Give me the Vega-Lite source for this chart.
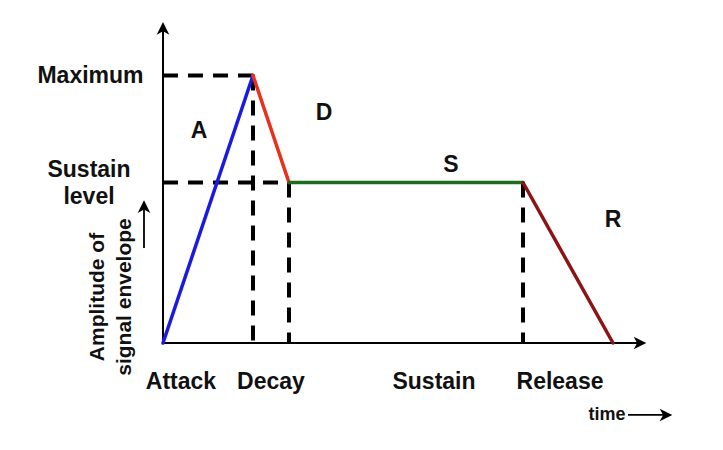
{
  "$schema": "https://vega.github.io/schema/vega-lite/v6.json",
  "width": 484,
  "height": 321,
  "autosize": "none",
  "padding": {"left": 163, "top": 22, "right": 76, "bottom": 107},
  "background": "white",
  "config": {"view": {"stroke": null}, "text": {"font": "Liberation Sans", "fontWeight": "bold", "color": "#111111"}},
  "datasets": {
    "env": [
      {"t": 0, "a": 0, "phase": "Attack"},
      {"t": 9, "a": 1, "phase": "Attack"},
      {"t": 9, "a": 1, "phase": "Decay"},
      {"t": 12.6, "a": 0.6, "phase": "Decay"},
      {"t": 12.6, "a": 0.6, "phase": "Sustain"},
      {"t": 36, "a": 0.6, "phase": "Sustain"},
      {"t": 36, "a": 0.6, "phase": "Release"},
      {"t": 45, "a": 0, "phase": "Release"}
    ],
    "guides": [
      {"t": 0, "a": 1, "t2": 9, "a2": 1},
      {"t": 0, "a": 0.6, "t2": 12.6, "a2": 0.6},
      {"t": 9, "a": 1, "t2": 9, "a2": 0},
      {"t": 12.6, "a": 0.6, "t2": 12.6, "a2": 0},
      {"t": 36, "a": 0.6, "t2": 36, "a2": 0}
    ],
    "axes": [
      {"t": 0, "a": 0, "t2": 0, "a2": 1.17},
      {"t": 0, "a": 0, "t2": 47.6, "a2": 0}
    ],
    "smallarrows": [
      {"t": 46.5, "a": -0.269, "t2": 50.0, "a2": -0.269},
      {"t": -1.9, "a": 0.355, "t2": -1.9, "a2": 0.5}
    ],
    "upheads": [
      {"t": 0, "a": 1.176},
      {"t": -1.9, "a": 0.51}
    ],
    "rightheads": [
      {"t": 47.7, "a": 0},
      {"t": 50.3, "a": -0.269}
    ],
    "labels": [
      {"t": -7.25, "a": 1.0, "label": "Maximum"},
      {"t": -7.4, "a": 0.647, "label": "Sustain"},
      {"t": -7.4, "a": 0.546, "label": "level"},
      {"t": 3.6, "a": 0.793, "label": "A"},
      {"t": 16.1, "a": 0.86, "label": "D"},
      {"t": 28.8, "a": 0.665, "label": "S"},
      {"t": 45.0, "a": 0.46, "label": "R"},
      {"t": 1.8, "a": -0.146, "label": "Attack"},
      {"t": 10.8, "a": -0.146, "label": "Decay"},
      {"t": 27.1, "a": -0.146, "label": "Sustain"},
      {"t": 39.7, "a": -0.146, "label": "Release"}
    ],
    "ytitle": [
      {"t": -6.5, "a": 0.172, "label": "Amplitude of"},
      {"t": -3.8, "a": 0.172, "label": "signal envelope"}
    ],
    "xtitle": [
      {"t": 44.4, "a": -0.269, "label": "time"}
    ]
  },
  "layer": [
    {
      "data": {"name": "guides"},
      "mark": {"type": "rule", "strokeDash": [15, 10], "strokeWidth": 4, "color": "black", "strokeCap": "butt"},
      "encoding": {
        "x": {"field": "t", "type": "quantitative", "scale": {"domain": [0, 48.4], "nice": false, "zero": false}, "axis": null},
        "y": {"field": "a", "type": "quantitative", "scale": {"domain": [0, 1.2], "nice": false, "zero": false}, "axis": null},
        "x2": {"field": "t2"},
        "y2": {"field": "a2"}
      }
    },
    {
      "data": {"name": "axes"},
      "mark": {"type": "rule", "strokeWidth": 2, "color": "black"},
      "encoding": {
        "x": {"field": "t", "type": "quantitative", "scale": {"domain": [0, 48.4], "nice": false, "zero": false}, "axis": null},
        "y": {"field": "a", "type": "quantitative", "scale": {"domain": [0, 1.2], "nice": false, "zero": false}, "axis": null},
        "x2": {"field": "t2"},
        "y2": {"field": "a2"}
      }
    },
    {
      "data": {"name": "smallarrows"},
      "mark": {"type": "rule", "strokeWidth": 1.8, "color": "black"},
      "encoding": {
        "x": {"field": "t", "type": "quantitative", "scale": {"domain": [0, 48.4], "nice": false, "zero": false}, "axis": null},
        "y": {"field": "a", "type": "quantitative", "scale": {"domain": [0, 1.2], "nice": false, "zero": false}, "axis": null},
        "x2": {"field": "t2"},
        "y2": {"field": "a2"}
      }
    },
    {
      "data": {"name": "upheads"},
      "mark": {"type": "point", "shape": "M0,-1L1,1L0,0.45L-1,1Z", "filled": true, "size": 160, "color": "black", "opacity": 1},
      "encoding": {
        "x": {"field": "t", "type": "quantitative", "scale": {"domain": [0, 48.4], "nice": false, "zero": false}, "axis": null},
        "y": {"field": "a", "type": "quantitative", "scale": {"domain": [0, 1.2], "nice": false, "zero": false}, "axis": null}
      }
    },
    {
      "data": {"name": "rightheads"},
      "mark": {"type": "point", "shape": "M1,0L-1,-1L-0.45,0L-1,1Z", "filled": true, "size": 160, "color": "black", "opacity": 1},
      "encoding": {
        "x": {"field": "t", "type": "quantitative", "scale": {"domain": [0, 48.4], "nice": false, "zero": false}, "axis": null},
        "y": {"field": "a", "type": "quantitative", "scale": {"domain": [0, 1.2], "nice": false, "zero": false}, "axis": null}
      }
    },
    {
      "data": {"name": "env"},
      "mark": {"type": "line", "strokeWidth": 3.5, "strokeCap": "round"},
      "encoding": {
        "x": {"field": "t", "type": "quantitative", "scale": {"domain": [0, 48.4], "nice": false, "zero": false}, "axis": null},
        "y": {"field": "a", "type": "quantitative", "scale": {"domain": [0, 1.2], "nice": false, "zero": false}, "axis": null},
        "color": {"field": "phase", "type": "nominal", "legend": null,
          "scale": {"domain": ["Attack", "Decay", "Sustain", "Release"], "range": ["#1a1ae0", "#e8301c", "#1c6e1c", "#8c1414"]}}
      }
    },
    {
      "data": {"name": "labels"},
      "mark": {"type": "text", "fontSize": 23, "align": "center", "baseline": "middle"},
      "encoding": {
        "x": {"field": "t", "type": "quantitative", "scale": {"domain": [0, 48.4], "nice": false, "zero": false}, "axis": null},
        "y": {"field": "a", "type": "quantitative", "scale": {"domain": [0, 1.2], "nice": false, "zero": false}, "axis": null},
        "text": {"field": "label"}
      }
    },
    {
      "data": {"name": "ytitle"},
      "mark": {"type": "text", "fontSize": 21, "align": "center", "baseline": "middle", "angle": 270},
      "encoding": {
        "x": {"field": "t", "type": "quantitative", "scale": {"domain": [0, 48.4], "nice": false, "zero": false}, "axis": null},
        "y": {"field": "a", "type": "quantitative", "scale": {"domain": [0, 1.2], "nice": false, "zero": false}, "axis": null},
        "text": {"field": "label"}
      }
    },
    {
      "data": {"name": "xtitle"},
      "mark": {"type": "text", "fontSize": 18, "align": "center", "baseline": "middle"},
      "encoding": {
        "x": {"field": "t", "type": "quantitative", "scale": {"domain": [0, 48.4], "nice": false, "zero": false}, "axis": null},
        "y": {"field": "a", "type": "quantitative", "scale": {"domain": [0, 1.2], "nice": false, "zero": false}, "axis": null},
        "text": {"field": "label"}
      }
    }
  ]
}
